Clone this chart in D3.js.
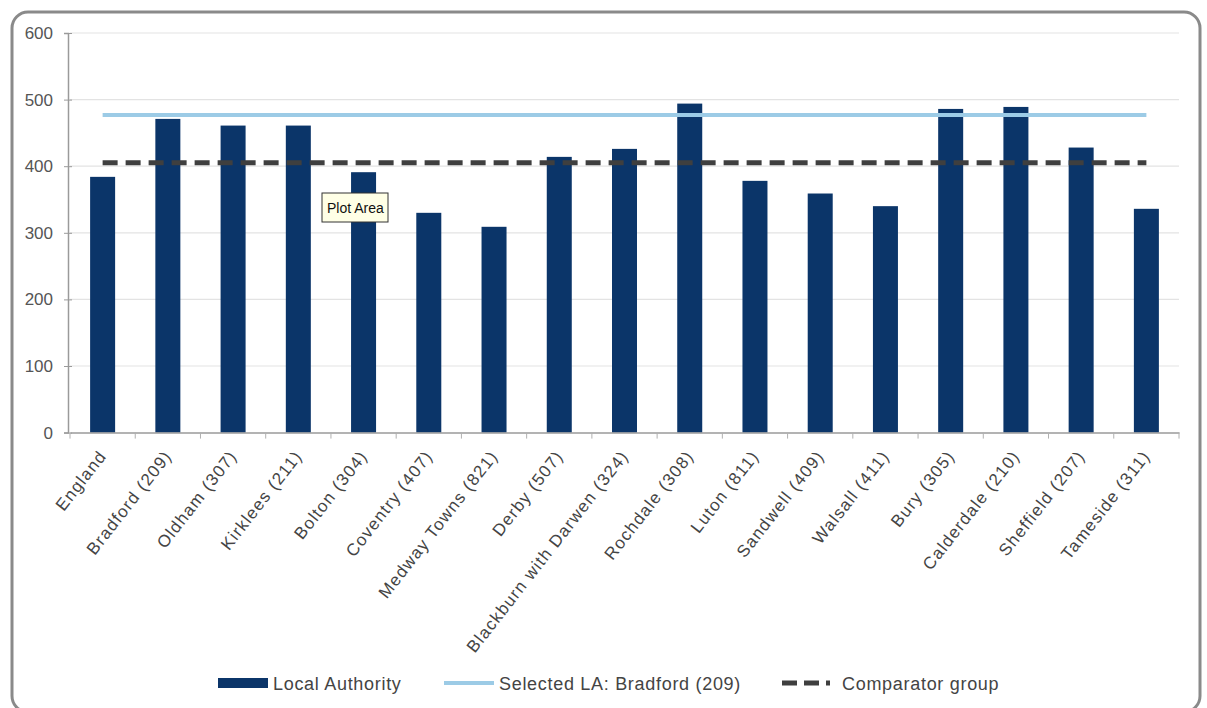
<!DOCTYPE html>
<html>
<head>
<meta charset="utf-8">
<script src="https://cdn.jsdelivr.net/npm/d3@7"></script>
<style>
  html, body { margin: 0; padding: 0; background: #fff; }
  svg { display: block; font-family: "Liberation Sans", Arial, sans-serif; }
</style>
</head>
<body>
<svg id="chart" width="1207" height="708"></svg>
<script>
// Local authority names with their codes
const categories = [
  "England", "Bradford (209)", "Oldham (307)", "Kirklees (211)", "Bolton (304)",
  "Coventry (407)", "Medway Towns (821)", "Derby (507)", "Blackburn with Darwen (324)",
  "Rochdale (308)", "Luton (811)", "Sandwell (409)", "Walsall (411)", "Bury (305)",
  "Calderdale (210)", "Sheffield (207)", "Tameside (311)"
];
// Local authority values
const localAuthority = [384, 471, 461, 461, 391, 330, 309, 414, 426, 494, 378, 359, 340, 486, 489, 428, 336];
// Reference levels drawn across all categories
const selectedLA = 477;
const comparatorGroup = 405;
const yTicks = [0, 100, 200, 300, 400, 500, 600];
const legendLabels = ["Local Authority", "Selected LA: Bradford (209)", "Comparator group"];

const svg = d3.select("#chart");
const plot = { left: 70, right: 1179, top: 33, bottom: 432.6 };
const FONT = "'Liberation Sans', Arial, sans-serif";

// Outer rounded frame
svg.append("rect")
  .attr("x", 12).attr("y", 12).attr("width", 1188).attr("height", 700)
  .attr("rx", 16).attr("ry", 16)
  .attr("fill", "#fff").attr("stroke", "#8a8a8a").attr("stroke-width", 3);

const x = d3.scaleBand().domain(categories).range([plot.left, plot.right]).padding(0);
const y = d3.scaleLinear().domain([0, 600]).range([plot.bottom, plot.top]);
const barW = 25;

// Horizontal gridlines
svg.append("g").selectAll("line").data(yTicks.filter(d => d > 0)).join("line")
  .attr("x1", plot.left).attr("x2", plot.right)
  .attr("y1", d => y(d)).attr("y2", d => y(d))
  .attr("stroke", "#e3e3e3").attr("stroke-width", 1.2);

// Bars
svg.append("g").selectAll("rect").data(categories).join("rect")
  .attr("x", (d) => x(d) + x.bandwidth() / 2 - barW / 2)
  .attr("width", barW)
  .attr("y", (d, i) => y(localAuthority[i]))
  .attr("height", (d, i) => y(0) - y(localAuthority[i]))
  .attr("fill", "#0b3569");

// Y axis
const yAxis = svg.append("g")
  .attr("transform", `translate(${plot.left - 2},0)`)
  .call(d3.axisLeft(y).tickValues(yTicks).tickSize(4).tickPadding(11));
yAxis.select(".domain").attr("stroke", "#9a9a9a").attr("stroke-width", 1.5);
yAxis.selectAll(".tick line").attr("stroke", "#9a9a9a").attr("x2", 4).attr("x1", -4);
yAxis.selectAll("text").attr("font-size", 17).attr("fill", "#555")
  .attr("font-family", FONT);

// X axis
const xAxis = svg.append("g")
  .attr("transform", `translate(0,${plot.bottom})`)
  .call(d3.axisBottom(x).tickSize(0).tickPadding(0));
xAxis.select(".domain").attr("stroke", "#9a9a9a").attr("stroke-width", 1.5);
// Category separator ticks
svg.append("g").selectAll("line").data(d3.range(categories.length + 1)).join("line")
  .attr("x1", i => plot.left + i * x.step()).attr("x2", i => plot.left + i * x.step())
  .attr("y1", plot.bottom).attr("y2", plot.bottom + 6)
  .attr("stroke", "#b0b0b0");
xAxis.selectAll("text")
  .attr("font-size", 17).attr("fill", "#444")
  .attr("font-family", FONT)
  .attr("letter-spacing", 1.2)
  .attr("text-anchor", "end")
  .attr("dy", "0.35em")
  .attr("transform", "translate(0,20) rotate(-52)");

// Reference lines spanning first to last category centre
const xFirst = x(categories[0]) + x.bandwidth() / 2;
const xLast = x(categories[categories.length - 1]) + x.bandwidth() / 2;
svg.append("line")
  .attr("x1", xFirst).attr("x2", xLast)
  .attr("y1", y(selectedLA)).attr("y2", y(selectedLA))
  .attr("stroke", "#9ccbe6").attr("stroke-width", 4);
svg.append("line")
  .attr("x1", xFirst).attr("x2", xLast)
  .attr("y1", y(comparatorGroup)).attr("y2", y(comparatorGroup))
  .attr("stroke", "#3f3f3f").attr("stroke-width", 5)
  .attr("stroke-dasharray", "15,8");

// "Plot Area" hover tip
const tip = svg.append("g").attr("transform", "translate(322,193)");
tip.append("rect").attr("width", 66).attr("height", 29)
  .attr("fill", "#ffffe6").attr("stroke", "#333").attr("stroke-width", 1);
tip.append("text").attr("x", 5).attr("y", 20)
  .attr("font-size", 14).attr("fill", "#111").text("Plot Area");

// Legend
const leg = svg.append("g").attr("font-size", 18).attr("fill", "#444")
  .attr("letter-spacing", 0.7);
leg.append("rect").attr("x", 218).attr("y", 678).attr("width", 50).attr("height", 10).attr("fill", "#0b3569");
leg.append("text").attr("x", 273).attr("y", 690).text(legendLabels[0]);
leg.append("line").attr("x1", 444).attr("x2", 494).attr("y1", 683).attr("y2", 683)
  .attr("stroke", "#9ccbe6").attr("stroke-width", 4);
leg.append("text").attr("x", 499).attr("y", 690).text(legendLabels[1]);
leg.append("line").attr("x1", 782).attr("x2", 830).attr("y1", 683).attr("y2", 683)
  .attr("stroke", "#3f3f3f").attr("stroke-width", 5).attr("stroke-dasharray", "15,7");
leg.append("text").attr("x", 842).attr("y", 690).text(legendLabels[2]);
</script>
</body>
</html>
